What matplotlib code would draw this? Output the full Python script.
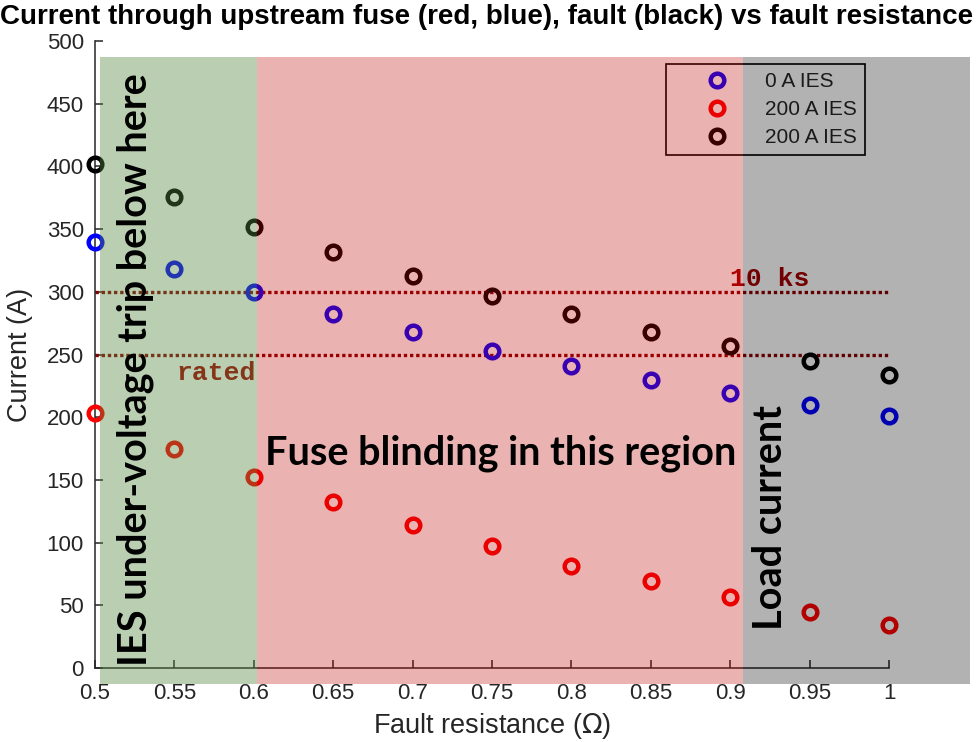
import matplotlib.pyplot as plt
from matplotlib.patches import Rectangle

# data
fault_r = [0.5, 0.55, 0.6, 0.65, 0.7, 0.75, 0.8, 0.85, 0.9, 0.95, 1.0]
fuse_0A = [340, 318, 300, 282, 268, 253, 241, 230, 219, 210, 201]
fuse_200A = [203, 175, 152, 132, 114, 97, 81, 69, 57, 45, 34]
fault_200A = [402, 376, 352, 332, 313, 297, 282, 268, 257, 245, 234]
series_labels = ['0 A IES', '200 A IES', '200 A IES']

xticks = [0.5, 0.55, 0.6, 0.65, 0.7, 0.75, 0.8, 0.85, 0.9, 0.95, 1.0]
xtick_labels = ['0.5', '0.55', '0.6', '0.65', '0.7', '0.75', '0.8', '0.85', '0.9', '0.95', '1']
yticks = [0, 50, 100, 150, 200, 250, 300, 350, 400, 450, 500]

rated_level = 250
ks10_level = 300

# shaded regions (x from, x to), all span the same y range
region_x = [(0.503, 0.602), (0.602, 0.908), (0.908, 1.051)]
region_y = (-12.5, 487.5)
region_colors = [(0.33, 0.52, 0.24), (0.75, 0, 0), (0, 0, 0)]
region_alpha = [0.4, 0.3, 0.3]

axcol = (0.15, 0.15, 0.15)
plt.rcParams['font.family'] = ['Liberation Sans', 'DejaVu Sans']

fig = plt.figure(figsize=(9.76, 7.42), dpi=100)
ax = fig.add_axes([0.0973, 0.0997, 0.8136, 0.845])

mk = dict(ls='none', marker='o', mfc='none', ms=9.8, mew=3.2, zorder=2.7, clip_on=False)
h1, = ax.plot(fault_r, fuse_0A, mec='blue', **mk)
h2, = ax.plot(fault_r, fuse_200A, mec='red', **mk)
h3, = ax.plot(fault_r, fault_200A, mec='black', **mk)

ax.plot([0.5, 1.0], [ks10_level, ks10_level], color=(0.55, 0, 0), lw=2.4, dashes=(1, 0.85), zorder=2)
ax.plot([0.5, 1.0], [rated_level, rated_level], color=(0.55, 0, 0), lw=2.4, dashes=(1, 0.85), zorder=2)
ax.text(0.9, 305, '10 ks', family='Liberation Mono', weight='bold', fontsize=19,
        color=(0.65, 0, 0), va='baseline', zorder=2)
ax.text(0.551, 230, 'rated', family='Liberation Mono', weight='bold', fontsize=19,
        color=(0.65, 0, 0), va='baseline', zorder=2)

leg = ax.legend([h1, h2, h3], series_labels, loc='upper right', bbox_to_anchor=(0.9698, 0.9633),
                borderaxespad=0, fancybox=False, edgecolor='black', facecolor='white', framealpha=1,
                fontsize=15, handletextpad=0.2, labelspacing=0.42, borderpad=0.4, handlelength=4.15)
leg.get_frame().set_linewidth(1.2)
for t in leg.get_texts():
    t.set_color(axcol)
leg.set_zorder(2.6)

for (x0, x1), c, a in zip(region_x, region_colors, region_alpha):
    ax.add_patch(Rectangle((x0, region_y[0]), x1 - x0, region_y[1] - region_y[0],
                           facecolor=c, alpha=a, lw=0, clip_on=False, zorder=3))

big = dict(family=['Lato', 'DejaVu Sans'], weight='bold', fontsize=28.5, color='black', zorder=4)
ax.text(0.607, 162, 'Fuse blinding in this region', va='baseline', ha='left', **big)
ax.text(0.5327, 2, 'IES under-voltage trip below here', rotation=90, rotation_mode='anchor',
        ha='left', va='baseline', **big)
ax.text(0.9327, 30, 'Load current', rotation=90, rotation_mode='anchor',
        ha='left', va='baseline', **big)

ax.set_xlim(0.5, 1.0)
ax.set_ylim(0, 500)
ax.set_xticks(xticks)
ax.set_xticklabels(xtick_labels)
ax.set_yticks(yticks)
for s in ['top', 'right']:
    ax.spines[s].set_visible(False)
for s in ['left', 'bottom']:
    ax.spines[s].set_color(axcol)
    ax.spines[s].set_linewidth(1.1)
ax.tick_params(direction='in', length=6, width=1.1, colors=axcol, labelsize=16)
ax.tick_params(axis='x', pad=11)
ax.tick_params(axis='y', pad=8)
ax.set_facecolor('none')

ax.set_xlabel('Fault resistance ($\\Omega$)', fontsize=19.5, color=axcol)
ax.set_ylabel('Current (A)', fontsize=19.5, color=axcol)
ax.xaxis.set_label_coords(0.5, -0.068)
ax.yaxis.set_label_coords(-0.078, 0.5)

fig.text(487 / 976, 1 - 17 / 742, 'Current through upstream fuse (red, blue), fault (black) vs fault resistance',
         family=['Liberation Sans', 'DejaVu Sans'], weight='bold', fontsize=20,
         ha='center', va='center', color='black')

fig.savefig('out.png', dpi=100)
